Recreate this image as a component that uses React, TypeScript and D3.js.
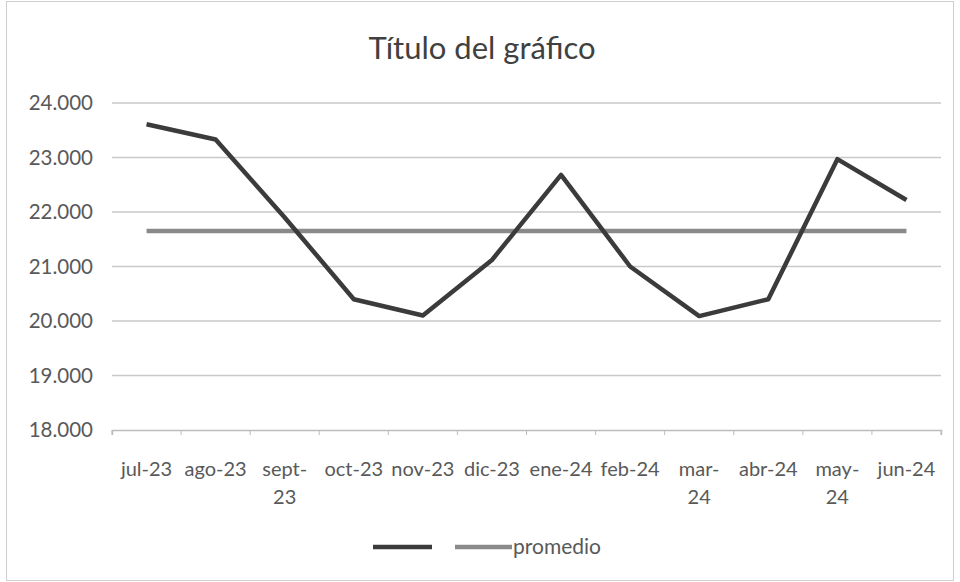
import React, { useEffect, useRef } from 'react'
import * as d3 from 'd3'

const months = ['jul-23', 'ago-23', 'sept-23', 'oct-23', 'nov-23', 'dic-23', 'ene-24', 'feb-24', 'mar-24', 'abr-24', 'may-24', 'jun-24']
const values = [23610, 23330, 21900, 20400, 20100, 21120, 22680, 21000, 20090, 20400, 22970, 22220]
const promedio = [21650, 21650, 21650, 21650, 21650, 21650, 21650, 21650, 21650, 21650, 21650, 21650]
const yTicks = [18000, 19000, 20000, 21000, 22000, 23000, 24000]
// labels Excel wraps onto two lines
const wrapped: Record<string, string[]> = {
  'sept-23': ['sept-', '23'],
  'mar-24': ['mar-', '24'],
  'may-24': ['may-', '24'],
}

const W = 960
const H = 582
const margin = { top: 103, right: 19, bottom: 152, left: 112 }
const font = 'Lato, "Open Sans", sans-serif'

export default function App() {
  const ref = useRef<SVGSVGElement>(null)

  useEffect(() => {
    const svg = d3.select(ref.current)
    svg.selectAll('*').remove()

    const x = d3.scaleBand().domain(months).range([margin.left, W - margin.right])
    const y = d3.scaleLinear().domain([18000, 24000]).range([H - margin.bottom, margin.top])
    const fmt = (v: number) => d3.format(',.3f')(v / 1000).replace(',', '')

    svg.append('rect')
      .attr('x', 6.5).attr('y', 1.5).attr('width', W - 13).attr('height', H - 3)
      .attr('fill', '#fff').attr('stroke', '#cfcfcf')

    svg.append('text')
      .attr('x', W / 2 + 2).attr('y', 59)
      .attr('text-anchor', 'middle')
      .style('font', `31px ${font}`)
      .attr('fill', '#404040')
      .text('Título del gráfico')

    // gridlines
    svg.append('g')
      .selectAll('line')
      .data(yTicks.slice(1))
      .join('line')
      .attr('x1', margin.left).attr('x2', W - margin.right)
      .attr('y1', d => y(d)).attr('y2', d => y(d))
      .attr('stroke', '#c9c9c9').attr('stroke-width', 1.5)

    svg.append('g')
      .selectAll('text')
      .data(yTicks)
      .join('text')
      .attr('x', 93).attr('y', d => y(d)).attr('dy', '0.35em')
      .attr('text-anchor', 'end')
      .style('font', `20.5px ${font}`)
      .attr('fill', '#595959')
      .text(d => fmt(d))

    // x axis
    const xAxis = d3.axisBottom(x).tickSize(5).tickFormat(() => '')
    const gx = svg.append('g')
      .attr('transform', `translate(0,${y(18000)})`)
      .call(xAxis)
    gx.select('.domain').attr('stroke', '#bdbdbd').attr('stroke-width', 1.5)
    gx.selectAll('.tick').remove()
    const edges = months.map(m => x(m) as number).concat([W - margin.right])
    gx.selectAll('line.tk')
      .data(edges)
      .join('line')
      .attr('class', 'tk')
      .attr('x1', d => d).attr('x2', d => d)
      .attr('y1', 0).attr('y2', 5)
      .attr('stroke', '#bdbdbd')

    const lab = svg.append('g')
      .selectAll('text')
      .data(months)
      .join('text')
      .attr('x', d => (x(d) as number) + x.bandwidth() / 2)
      .attr('y', y(18000) + 46)
      .attr('text-anchor', 'middle')
      .style('font', `20px ${font}`)
      .attr('fill', '#595959')
    lab.each(function (d) {
      const lines = wrapped[d] || [d]
      d3.select(this).selectAll('tspan')
        .data(lines)
        .join('tspan')
        .attr('x', (x(d) as number) + x.bandwidth() / 2)
        .attr('dy', (_, i) => (i === 0 ? 0 : 28))
        .text(t => t)
    })

    const line = d3.line<number>()
      .x((_, i) => (x(months[i]) as number) + x.bandwidth() / 2)
      .y(d => y(d))

    svg.append('path')
      .datum(promedio)
      .attr('d', line)
      .attr('fill', 'none')
      .attr('stroke', '#8a8a8a')
      .attr('stroke-width', 4.5)

    svg.append('path')
      .datum(values)
      .attr('d', line)
      .attr('fill', 'none')
      .attr('stroke', '#3b3b3b')
      .attr('stroke-width', 4.5)
      .attr('stroke-linejoin', 'round')

    // legend
    const lg = svg.append('g').attr('transform', 'translate(0,547)')
    lg.append('line').attr('x1', 373).attr('x2', 432).attr('y1', 0).attr('y2', 0)
      .attr('stroke', '#3b3b3b').attr('stroke-width', 4.5)
    lg.append('line').attr('x1', 455).attr('x2', 512).attr('y1', 0).attr('y2', 0)
      .attr('stroke', '#8a8a8a').attr('stroke-width', 4.5)
    lg.append('text').attr('x', 513).attr('y', 0).attr('dy', '0.35em')
      .style('font', `21px ${font}`)
      .attr('fill', '#595959')
      .text('promedio')
  }, [])

  return (
    <svg ref={ref} width={W} height={H} style={{ position: 'absolute', left: 0, top: 0, display: 'block' }} />
  )
}
